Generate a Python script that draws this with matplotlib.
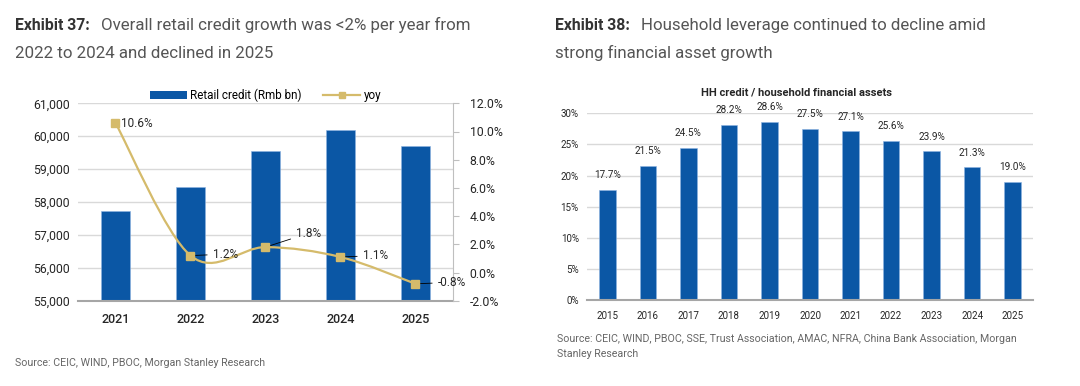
import matplotlib
matplotlib.use("Agg")
import matplotlib.pyplot as plt
from matplotlib.path import Path
from matplotlib.patches import PathPatch, Patch
from matplotlib.lines import Line2D
import numpy as np

plt.rcParams['font.family'] = ['Roboto', 'DejaVu Sans']

# ---------------- data ----------------
years_left = ['2021', '2022', '2023', '2024', '2025']
retail_credit = [57740, 58460, 59540, 60190, 59690]
yoy = [10.6, 1.2, 1.8, 1.1, -0.8]
yoy_labels = ['10.6%', '1.2%', '1.8%', '1.1%', '-0.8%']

years_right = ['2015', '2016', '2017', '2018', '2019', '2020', '2021', '2022', '2023', '2024', '2025']
hh_ratio = [17.7, 21.5, 24.5, 28.2, 28.6, 27.5, 27.1, 25.6, 23.9, 21.3, 19.0]

left_yticks = [55000, 56000, 57000, 58000, 59000, 60000, 61000]
right_yticks_pct = [-2, 0, 2, 4, 6, 8, 10, 12]
hh_yticks = [0, 5, 10, 15, 20, 25, 30]

BLUE = '#0B57A5'
GOLD = '#D5BB6B'
GRID = '#D9D9D9'
TXT = '#262626'

W, H = 1080, 386
fig = plt.figure(figsize=(W / 100, H / 100), dpi=100)

def axrect(x0, y0, x1, y1):
    return [x0 / W, 1 - y1 / H, (x1 - x0) / W, (y1 - y0) / H]

# overlay axis for titles / sources
ov = fig.add_axes([0, 0, 1, 1])
ov.set_xlim(0, W)
ov.set_ylim(H, 0)
ov.axis('off')

def title(x, y, bold, rest):
    t1 = ov.text(x, y, bold, fontsize=11.3, fontweight='bold', color='#333333', va='baseline', ha='left')
    ov.annotate(rest, xy=(1, 0), xycoords=t1, xytext=(8, 0), textcoords='offset points',
                fontsize=12.2, color='#555555', va='bottom', ha='left')

title(15, 30, 'Exhibit 37:', 'Overall retail credit growth was <2% per year from')
ov.text(15, 58, '2022 to 2024 and declined in 2025', fontsize=12.2, color='#555555', va='baseline')
title(555, 30, 'Exhibit 38:', 'Household leverage continued to decline amid')
ov.text(555, 58, 'strong financial asset growth', fontsize=12.2, color='#555555', va='baseline')

ov.text(15, 366, 'Source: CEIC, WIND, PBOC, Morgan Stanley Research', fontsize=7.7, color='#666666', va='baseline')
ov.text(557, 342, 'Source: CEIC, WIND, PBOC, SSE, Trust Association, AMAC, NFRA, China Bank Association, Morgan',
        fontsize=7.7, color='#666666', va='baseline')
ov.text(557, 357, 'Stanley Research', fontsize=7.7, color='#666666', va='baseline')

# ---------------- left chart ----------------
ax = fig.add_axes(axrect(78, 103.3, 453, 300.7))
x = np.arange(len(years_left))
ax.bar(x, retail_credit, width=0.39, color=BLUE, zorder=2, edgecolor='#8DB3E2', linewidth=0.4)
ax.set_xlim(-0.5, len(years_left) - 0.5)
ax.set_ylim(55000, 61000)
ax.set_yticks(left_yticks)
ax.set_yticklabels([f'{v:,}' for v in left_yticks], fontsize=8.8, color=TXT)
ax.set_xticks(x)
ax.set_xticklabels(years_left, fontsize=9, color=TXT, fontweight='medium')
ax.yaxis.grid(True, color=GRID, lw=1, zorder=0)
ax.set_axisbelow(True)
for s in ['top', 'right', 'left']:
    ax.spines[s].set_visible(False)
ax.spines['bottom'].set_color('#A6A6A6')
ax.spines['bottom'].set_linewidth(1.5)
ax.tick_params(axis='both', length=0, pad=6)
ax.tick_params(axis='x', pad=9)

ax2 = ax.twinx()
ax2.set_ylim(-2, 12)
ax2.set_yticks(right_yticks_pct)
ax2.set_yticklabels([f'{v:.1f}%' for v in right_yticks_pct], fontsize=8.8, color=TXT)
for s in ['top', 'left', 'bottom']:
    ax2.spines[s].set_visible(False)
ax2.spines['right'].set_color('#BFBFBF')
ax2.tick_params(axis='y', length=4, color='#BFBFBF', pad=8, direction='out')

# smooth (Catmull-Rom -> Bezier) line through the yoy points
pts = np.column_stack([x, yoy]).astype(float)
verts = [tuple(pts[0])]
codes = [Path.MOVETO]
n = len(pts)
for i in range(n - 1):
    p0 = pts[i - 1] if i > 0 else pts[i]
    p1 = pts[i]
    p2 = pts[i + 1]
    p3 = pts[i + 2] if i + 2 < n else pts[i + 1]
    c1 = p1 + (p2 - p0) / 6
    c2 = p2 - (p3 - p1) / 6
    verts += [tuple(c1), tuple(c2), tuple(p2)]
    codes += [Path.CURVE4] * 3
ax2.add_patch(PathPatch(Path(verts, codes), facecolor='none', edgecolor=GOLD, lw=1.6, zorder=3))
ax2.plot(x, yoy, ls='none', marker='s', ms=6, color=GOLD, zorder=4)

label_offsets = [(4, 0), (16, 1), (22, 10), (16, 1), (16, 1)]
for i, (lab, off) in enumerate(zip(yoy_labels, label_offsets)):
    if i == 0:
        ax2.annotate(lab, (x[i], yoy[i]), xytext=off, textcoords='offset points',
                     fontsize=8.5, color=TXT, va='center', ha='left')
    else:
        ax2.annotate(lab, (x[i], yoy[i]), xytext=off, textcoords='offset points',
                     fontsize=8.5, color=TXT, va='center', ha='left',
                     arrowprops=dict(arrowstyle='-', color='black', lw=0.6,
                                     shrinkA=2, shrinkB=3))

handles = [Patch(facecolor=BLUE, edgecolor='none'),
           Line2D([], [], color=GOLD, marker='s', ms=5, lw=1.6)]
ax.legend(handles, ['Retail credit (Rmb bn)', 'yoy'], loc='center', bbox_to_anchor=(0.5, 1.04),
          ncol=2, frameon=False, fontsize=8.4, handlelength=3.2, handleheight=0.6,
          columnspacing=1.8, handletextpad=0.3, borderaxespad=0)

# ---------------- right chart ----------------
bx = fig.add_axes(axrect(587, 113.3, 1033, 300))
xr = np.arange(len(years_right))
bx.bar(xr, hh_ratio, width=0.41, color=BLUE, zorder=2, edgecolor='#8DB3E2', linewidth=0.4)
bx.set_xlim(-0.5, len(years_right) - 0.5)
bx.set_ylim(0, 30)
bx.set_yticks(hh_yticks)
bx.set_yticklabels([f'{v}%' for v in hh_yticks], fontsize=7, color=TXT)
bx.set_xticks(xr)
bx.set_xticklabels(years_right, fontsize=7, color=TXT)
bx.yaxis.grid(True, color=GRID, lw=1, zorder=0)
bx.set_axisbelow(True)
for s in ['top', 'right', 'left']:
    bx.spines[s].set_visible(False)
bx.spines['bottom'].set_color('#A6A6A6')
bx.spines['bottom'].set_linewidth(1.5)
bx.tick_params(axis='both', length=0, pad=6)
bx.tick_params(axis='x', pad=8)
for xi, v in zip(xr, hh_ratio):
    bx.annotate(f'{v:.1f}%', (xi, v), xytext=(0, 7), textcoords='offset points',
                ha='center', va='bottom', fontsize=7.2, color=TXT, clip_on=False)
bx.text(0.47, 1.085, 'HH credit / household financial assets', transform=bx.transAxes,
        fontsize=8, fontweight='bold', color=TXT, ha='center', va='bottom')

fig.savefig('out.png', dpi=100)
